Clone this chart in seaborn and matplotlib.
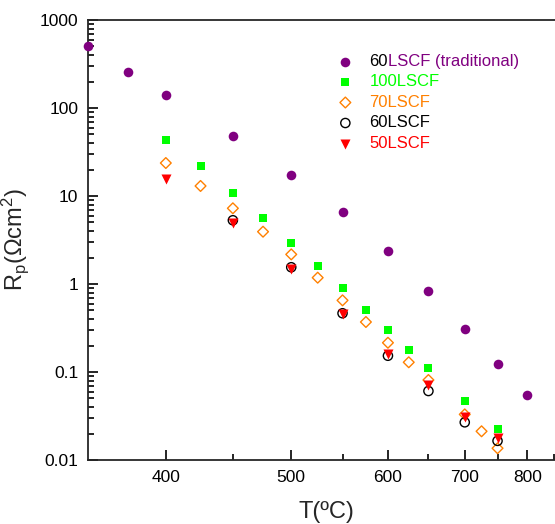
import matplotlib
matplotlib.use('Agg')
import numpy as np
import matplotlib.pyplot as plt
import seaborn as sns
from matplotlib.ticker import FixedLocator, FuncFormatter, LogLocator, NullFormatter

# polarisation resistance vs temperature
t_trad = [350, 375, 400, 450, 500, 550, 600, 650, 700, 750, 800]
r_trad = [507, 256, 141, 48, 17.3, 6.6, 2.37, 0.83, 0.308, 0.123, 0.0548]

t_100 = [400, 425, 450, 475, 500, 525, 550, 575, 600, 625, 650, 700, 750]
r_100 = [43.6, 21.8, 10.7, 5.6, 2.92, 1.61, 0.91, 0.507, 0.298, 0.179, 0.111, 0.0464, 0.0225]

t_70 = [400, 425, 450, 475, 500, 525, 550, 575, 600, 625, 650, 700, 725, 750]
r_70 = [23.7, 13.0, 7.25, 3.93, 2.17, 1.18, 0.652, 0.370, 0.215, 0.129, 0.0811, 0.0330, 0.0212, 0.0136]

t_60 = [450, 500, 550, 600, 650, 700, 750]
r_60 = [5.3, 1.55, 0.465, 0.153, 0.0608, 0.0268, 0.0165]

t_50 = [400, 450, 500, 550, 600, 650, 700, 750]
r_50 = [15.7, 4.97, 1.47, 0.46, 0.160, 0.0706, 0.031, 0.0177]

x_major = [400, 500, 600, 700, 800]
x_minor = [450, 550, 650, 750, 850]

purple = '#800080'
green = '#00FF00'
orange = '#FF8000'
red = '#FF0000'

sns.set_theme(style='ticks')
plt.rcParams['font.family'] = ['Liberation Sans', 'DejaVu Sans']
plt.rcParams['mathtext.fontset'] = 'custom'
plt.rcParams['mathtext.rm'] = 'Liberation Sans'
plt.rcParams['mathtext.it'] = 'Liberation Sans:italic'
plt.rcParams['axes.linewidth'] = 1.3

fig = plt.figure(figsize=(5.55, 5.24), dpi=100)
ax = fig.add_axes([88 / 555, 1 - 460 / 524, (564.5 - 88) / 555, 440 / 524])

# x axis is linear in 1000/T(K), labelled in Celsius
fwd = lambda t: -1000.0 / (np.asarray(t, dtype=float) + 273.0)
inv = lambda v: -1000.0 / np.asarray(v, dtype=float) - 273.0
ax.set_xscale('function', functions=(fwd, inv))
ax.set_yscale('log')

sns.scatterplot(x=t_trad, y=r_trad, ax=ax, marker='o', color=purple, s=48,
                linewidth=0, label='60', clip_on=False, zorder=3)
sns.scatterplot(x=t_100, y=r_100, ax=ax, marker='s', color=green, s=34,
                linewidth=0, label='100LSCF', zorder=3)
sns.scatterplot(x=t_70, y=r_70, ax=ax, marker='D', facecolor='none', edgecolor=orange,
                s=30, linewidth=1.0, label='70LSCF', zorder=3)
sns.scatterplot(x=t_60, y=r_60, ax=ax, marker='o', facecolor='none', edgecolor='black',
                s=44, linewidth=1.0, label='60LSCF', zorder=3)
sns.scatterplot(x=t_50, y=r_50, ax=ax, marker='v', color=red, s=52,
                linewidth=0, label='50LSCF', zorder=4)

ax.set_xlim(350, 870)
ax.set_ylim(0.01, 1000)

ax.xaxis.set_major_locator(FixedLocator(x_major))
ax.xaxis.set_minor_locator(FixedLocator(x_minor))
ax.xaxis.set_major_formatter(FuncFormatter(lambda v, p: '%d' % round(v)))
ax.xaxis.set_minor_formatter(NullFormatter())
ax.yaxis.set_major_locator(LogLocator(base=10))
ax.yaxis.set_minor_locator(LogLocator(base=10, subs=np.arange(2, 10)))
ax.yaxis.set_major_formatter(FuncFormatter(lambda v, p: '%g' % v))
ax.yaxis.set_minor_formatter(NullFormatter())

ax.tick_params(which='both', direction='in', top=False, right=False,
               width=1.2, labelsize=12.5, colors='black')
ax.tick_params(which='major', length=7, pad=7)
ax.tick_params(which='minor', length=4)
ax.spines['right'].set_visible(False)
ax.spines['top'].set_visible(True)

ax.set_xlabel('T(ºC)', fontsize=17, labelpad=12)
ax.set_ylabel('R$_\\mathrm{p}$(Ωcm$^2$)', fontsize=17, labelpad=6)

leg = ax.legend(loc='upper left', bbox_to_anchor=(0.5226, 0.923), frameon=False,
                fontsize=12, handlelength=1.0, handletextpad=0.95,
                labelspacing=0.33, borderpad=0, borderaxespad=0, scatterpoints=1)
for txt, col in zip(leg.get_texts(), ['black', green, orange, 'black', red]):
    txt.set_color(col)
# second half of the first label, drawn after the legend so its position is known
ax.annotate('LSCF (traditional)', xy=(1, 0), xycoords=leg.get_texts()[0],
            ha='left', va='bottom', fontsize=12, color=purple, zorder=10)

fig.savefig('out.png', dpi=100)
